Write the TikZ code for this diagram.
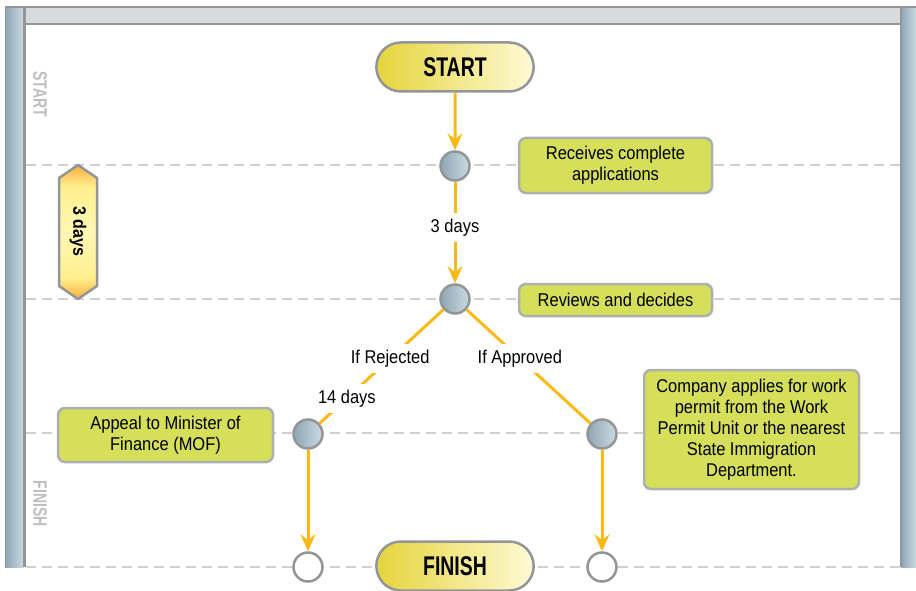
\documentclass[tikz,border=0pt]{standalone}
\usepackage{fontspec}
\setmainfont[FakeStretch=0.89]{Liberation Sans}
\newfontfamily\headfont[FakeStretch=0.72]{Liberation Sans}
\usetikzlibrary{arrows.meta,shapes.misc}
\definecolor{flow}{HTML}{FDB913}
\definecolor{rim}{HTML}{939598}
\definecolor{boxrim}{HTML}{ADAFB1}
\definecolor{boxgreen}{HTML}{D5DF5A}
\definecolor{lanegray}{HTML}{CFD0D2}
\definecolor{barlight}{HTML}{CBDAE1}
\definecolor{bardark}{HTML}{8EA7B5}
\definecolor{pillleft}{HTML}{E5D43C}
\definecolor{pillright}{HTML}{FEFAD4}
\definecolor{hexorange}{HTML}{FBAE3C}
\definecolor{hexyellow}{HTML}{FFF08E}
\definecolor{hexpale}{HTML}{FFF7B4}
\definecolor{textgray}{HTML}{BCBEC0}
\pgfdeclareverticalshading{hexfade}{100bp}{color(0bp)=(hexorange); color(25bp)=(hexorange);
    color(33bp)=(hexyellow); color(50bp)=(hexpale); color(67bp)=(hexyellow);
    color(75bp)=(hexorange); color(100bp)=(hexorange)}
\begin{document}
\begin{tikzpicture}[x=1pt,y=-1pt,
    pill/.style={rounded rectangle, draw=rim, line width=2.5pt, minimum width=164pt, minimum height=49pt,
        left color=pillleft, right color=pillright, font=\headfont\bfseries\fontsize{27}{27}\selectfont},
    stopdot/.style={circle, draw=rim, line width=2.5pt, minimum size=29pt, inner sep=0pt,
        left color=bardark, right color=barlight},
    enddot/.style={circle, draw=rim, line width=2.5pt, minimum size=29pt, inner sep=0pt, fill=white},
    task/.style={draw=boxrim, fill=boxgreen, rounded corners=7pt, line width=2.5pt, align=center,
        inner sep=0pt, font=\fontsize{18.5}{21}\selectfont},
    flowline/.style={draw=flow, line width=3pt},
    flowarrow/.style={flowline, -{Stealth[length=17pt,width=15pt,inset=6pt]}},
    tag/.style={fill=white, inner sep=6pt, font=\fontsize{18.5}{21}\selectfont},
    lanetag/.style={rotate=-90, text=textgray, font=\headfont\bfseries\fontsize{19.5}{20}\selectfont}]
\useasboundingbox (0,0) rectangle (916,591);
% frame
\fill[lanegray!80] (25,7) rectangle (900,24);
\shade[left color=bardark, right color=barlight] (5,7) rectangle (24,567);
\shade[left color=bardark, right color=barlight] (901,7) rectangle (916,567);
\draw[rim, line width=2pt] (5,7) -- (916,7);
\draw[rim, line width=2.5pt] (25,24) -- (900,24);
\draw[rim, line width=2.5pt] (24.5,7) -- (24.5,567);
\draw[rim, line width=2.5pt] (901,7) -- (901,567);
\draw[rim, line width=1pt] (5,7) -- (5,567);
% lanes
\foreach \y in {165,299,433,567}
    \draw[lanegray, line width=2pt, dash pattern=on 10pt off 6pt] (26,\y) -- (900,\y);
\node[lanetag] (lstart) at (40,94) {START};
\node[lanetag] (lfinish) at (40,504) {FINISH};
% duration marker
\shade[shading=hexfade]
    (78,165) -- (97,178) -- (97,286) -- (78,299) -- (59,286) -- (59,178) -- cycle;
\draw[rim, line width=2.5pt, line join=round]
    (78,165) -- (97,178) -- (97,286) -- (78,299) -- (59,286) -- (59,178) -- cycle;
\node[rotate=-90, font=\bfseries\fontsize{18}{20}\selectfont] (span) at (78,231) {3 days};
% flow
\node[pill] (start) at (455,67) {START};
\node[pill] (finish) at (455,566) {FINISH};
\node[stopdot] (recv) at (455,166) {};
\node[stopdot] (rev) at (455,299) {};
\node[stopdot] (rej) at (308,434) {};
\node[stopdot] (appr) at (602,434) {};
\node[enddot] (endrej) at (308,567) {};
\node[enddot] (endappr) at (602,567) {};
\node[task, minimum width=193pt, minimum height=55pt] (trecv) at (615.5,165.5) {Receives complete\\applications};
\node[task, minimum width=193pt, minimum height=32pt] (trev) at (615.5,300) {Reviews and decides};
\node[task, minimum width=215pt, minimum height=54pt] (tappeal) at (165.5,435) {Appeal to Minister of\\Finance (MOF)};
\node[task, minimum width=215pt, minimum height=119pt] (tpermit) at (751.5,429.5)
    {Company applies for work\\permit from the Work\\Permit Unit or the nearest\\State Immigration\\Department.};
\draw[flowarrow] (start) -- (recv);
\draw[flowarrow] (recv) -- node[tag, pos=0.45] {3 days} (rev);
\draw[flowline] (rev) -- node[tag, pos=0.43] {If Rejected} node[tag, pos=0.78] {14 days} (rej);
\draw[flowline] (rev) -- node[tag, pos=0.43] {If Approved} (appr);
\draw[flowarrow] (rej) -- (endrej);
\draw[flowarrow] (appr) -- (endappr);
\end{tikzpicture}
\end{document}
